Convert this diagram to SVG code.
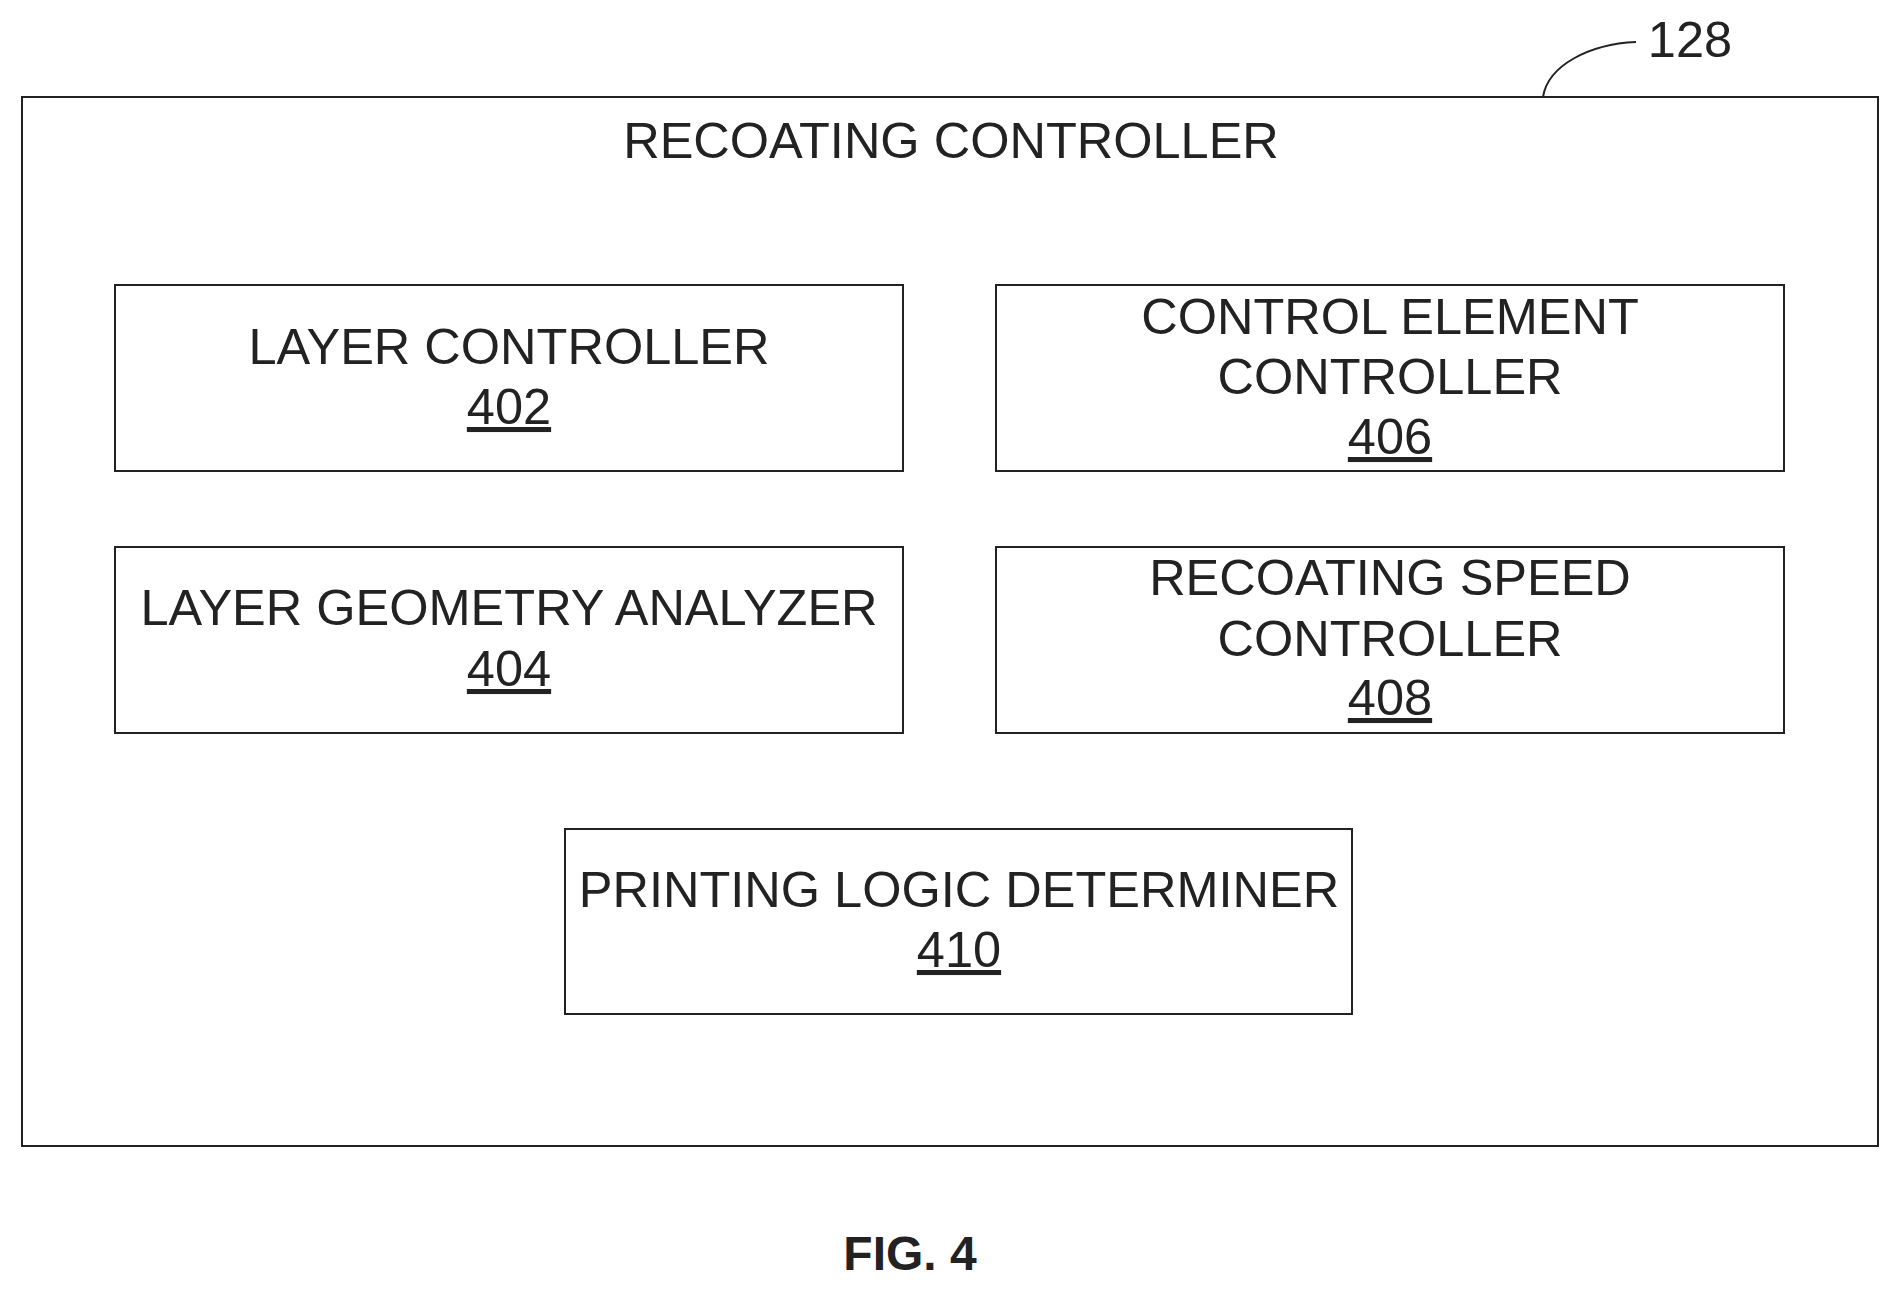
<svg xmlns="http://www.w3.org/2000/svg" width="1900" height="1292" viewBox="0 0 1900 1292">
<style>
.b{fill:none;stroke:#222;stroke-width:2}
text{font-family:"Liberation Sans",Arial,sans-serif;font-size:50.5px;fill:#222;text-anchor:middle}
.u{text-decoration:underline}
</style>
<rect width="1900" height="1292" fill="#fff"/>
<g id="outer"><rect class="b" x="22" y="97" width="1856" height="1049"/><text x="951" y="158">RECOATING CONTROLLER</text></g>
<g id="n402"><rect class="b" x="115" y="285" width="788" height="186"/><text x="509" y="364">LAYER CONTROLLER</text><text class="u" x="509" y="424">402</text></g>
<g id="n406"><rect class="b" x="996" y="285" width="788" height="186"/><text x="1390" y="334">CONTROL ELEMENT</text><text x="1390" y="394">CONTROLLER</text><text class="u" x="1390" y="454">406</text></g>
<g id="n404"><rect class="b" x="115" y="547" width="788" height="186"/><text x="509" y="625">LAYER GEOMETRY ANALYZER</text><text class="u" x="509" y="686">404</text></g>
<g id="n408"><rect class="b" x="996" y="547" width="788" height="186"/><text x="1390" y="595">RECOATING SPEED</text><text x="1390" y="656">CONTROLLER</text><text class="u" x="1390" y="715">408</text></g>
<g id="n410"><rect class="b" x="565" y="829" width="787" height="185"/><text x="959" y="907">PRINTING LOGIC DETERMINER</text><text class="u" x="959" y="967">410</text></g>
<g id="connectors"><path class="b" d="M1543 97 C1548 65 1590 44 1636 42"/></g>
<text x="1690" y="57">128</text>
<text x="910" y="1270" style="font-weight:bold;font-size:48px">FIG. 4</text>
</svg>
